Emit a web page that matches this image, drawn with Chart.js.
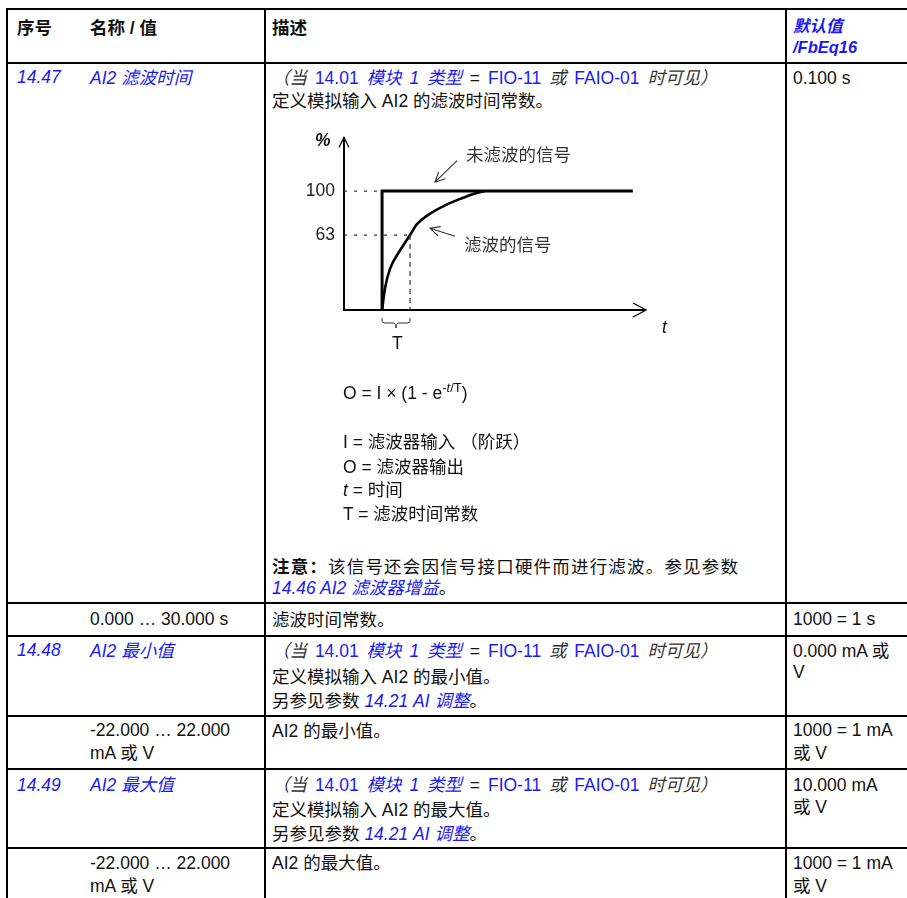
<!DOCTYPE html>
<html>
<head>
<meta charset="utf-8">
<script src="https://cdn.jsdelivr.net/npm/chart.js@4"></script>
<style>
  body { margin: 0; background: #fff; }
  #pagina { position: relative; width: 907px; height: 898px; overflow: hidden; background: #fff;
            font-family: "Liberation Sans", "Noto Sans CJK SC", sans-serif; color: #111; }
  .h { position: absolute; height: 2px; background: #000; }
  .v { position: absolute; width: 2px; background: #000; }
  .t { position: absolute; white-space: nowrap; line-height: 20px; font-size: 17.5px; }
  .az { color: #1a1af5; }
  .it { font-style: italic; }
  .gr { color: #333; }
  .neg { font-weight: bold; }
  .cond { word-spacing: 3px; }
  .just { width: 466px; text-align: justify; text-align-last: justify; }
  .apr { font-size: 16.5px; }
  sup { font-size: 13px; vertical-align: 7px; line-height: 0; }
  #grafica { position: absolute; left: 290px; top: 118px; }
</style>
</head>
<body>
<div id="pagina">
  <!-- lineas de la tabla -->
  <div class="h" style="left:6px;top:8px;width:901px"></div>
  <div class="h" style="left:6px;top:62px;width:901px"></div>
  <div class="h" style="left:6px;top:602px;width:901px"></div>
  <div class="h" style="left:6px;top:635px;width:901px"></div>
  <div class="h" style="left:6px;top:715px;width:901px"></div>
  <div class="h" style="left:6px;top:768px;width:901px"></div>
  <div class="h" style="left:6px;top:847px;width:901px"></div>
  <div class="v" style="left:6px;top:8px;height:890px"></div>
  <div class="v" style="left:264px;top:8px;height:890px"></div>
  <div class="v" style="left:785px;top:8px;height:890px"></div>

  <!-- encabezado -->
  <div class="t neg" style="left:17px;top:18px">序号</div>
  <div class="t neg" style="left:90px;top:18px">名称 / 值</div>
  <div class="t neg" style="left:272px;top:18px">描述</div>
  <div class="t neg it az apr" style="left:793px;top:16px">默认值</div>
  <div class="t neg it az apr" style="left:793px;top:37px">/FbEq16</div>

  <!-- 14.47 -->
  <div class="t it az" style="left:17px;top:67px">14.47</div>
  <div class="t it az" style="left:90px;top:68px">AI2 滤波时间</div>
  <div class="t cond" style="left:272px;top:68px"><span class="it gr">（当 </span><span class="az">14.01 </span><span class="az it">模块 1 类型</span> = <span class="az">FIO-11</span><span class="it gr"> 或 </span><span class="az">FAIO-01</span><span class="it gr"> 时可见）</span></div>
  <div class="t" style="left:272px;top:91px">定义模拟输入 AI2 的滤波时间常数。</div>
  <div class="t" style="left:793px;top:68px">0.100 s</div>

  <canvas id="grafica" width="400" height="242"></canvas>
  <div class="t neg it" style="left:315px;top:130px">%</div>
  <div class="t gr" style="left:466px;top:145px">未滤波的信号</div>
  <div class="t gr" style="left:464px;top:235px">滤波的信号</div>
  <div class="t it" style="left:662px;top:317px">t</div>
  <div class="t" style="left:392px;top:333px">T</div>

  <div class="t" style="left:343px;top:383px">O = I × (1 - e<sup>-<i>t</i>/T</sup>)</div>
  <div class="t" style="left:343px;top:432px">I = 滤波器输入 （阶跃）</div>
  <div class="t" style="left:343px;top:457px">O = 滤波器输出</div>
  <div class="t" style="left:343px;top:480px"><i>t</i> = 时间</div>
  <div class="t" style="left:343px;top:504px">T = 滤波时间常数</div>
  <div class="t just" style="left:272px;top:557px"><b>注意：</b>该信号还会因信号接口硬件而进行滤波。参见参数</div>
  <div class="t" style="left:272px;top:578px"><span class="az it">14.46 AI2 滤波器增益</span>。</div>

  <!-- 0.000 ... 30.000 s -->
  <div class="t" style="left:90px;top:609px">0.000 … 30.000 s</div>
  <div class="t" style="left:272px;top:610px">滤波时间常数。</div>
  <div class="t" style="left:793px;top:609px">1000 = 1 s</div>

  <!-- 14.48 -->
  <div class="t it az" style="left:17px;top:640px">14.48</div>
  <div class="t it az" style="left:90px;top:641px">AI2 最小值</div>
  <div class="t cond" style="left:272px;top:641px"><span class="it gr">（当 </span><span class="az">14.01 </span><span class="az it">模块 1 类型</span> = <span class="az">FIO-11</span><span class="it gr"> 或 </span><span class="az">FAIO-01</span><span class="it gr"> 时可见）</span></div>
  <div class="t" style="left:272px;top:667px">定义模拟输入 AI2 的最小值。</div>
  <div class="t" style="left:272px;top:691px">另参见参数 <span class="az it">14.21 AI 调整</span>。</div>
  <div class="t" style="left:793px;top:641px">0.000 mA 或</div>
  <div class="t" style="left:793px;top:662px">V</div>

  <div class="t" style="left:90px;top:720px">-22.000 … 22.000</div>
  <div class="t" style="left:90px;top:743px">mA 或 V</div>
  <div class="t" style="left:272px;top:721px">AI2 的最小值。</div>
  <div class="t" style="left:793px;top:720px">1000 = 1 mA</div>
  <div class="t" style="left:793px;top:743px">或 V</div>

  <!-- 14.49 -->
  <div class="t it az" style="left:17px;top:775px">14.49</div>
  <div class="t it az" style="left:90px;top:775px">AI2 最大值</div>
  <div class="t cond" style="left:272px;top:775px"><span class="it gr">（当 </span><span class="az">14.01 </span><span class="az it">模块 1 类型</span> = <span class="az">FIO-11</span><span class="it gr"> 或 </span><span class="az">FAIO-01</span><span class="it gr"> 时可见）</span></div>
  <div class="t" style="left:272px;top:800px">定义模拟输入 AI2 的最大值。</div>
  <div class="t" style="left:272px;top:824px">另参见参数 <span class="az it">14.21 AI 调整</span>。</div>
  <div class="t" style="left:793px;top:775px">10.000 mA</div>
  <div class="t" style="left:793px;top:797px">或 V</div>

  <div class="t" style="left:90px;top:853px">-22.000 … 22.000</div>
  <div class="t" style="left:90px;top:876px">mA 或 V</div>
  <div class="t" style="left:272px;top:853px">AI2 的最大值。</div>
  <div class="t" style="left:793px;top:853px">1000 = 1 mA</div>
  <div class="t" style="left:793px;top:876px">或 V</div>
</div>

<script>
// --- DATOS (tiempo en unidades de T, valor en %) ---
const tiempoFiltrada = [0, 0.11, 0.29, 0.64, 1.0, 1.24, 1.65, 2.25, 2.85, 3.32, 3.68];
const valorFiltrada  = [0, 19, 35, 50, 63, 72, 80, 88, 94, 98, 100];
const tiempoEscalon  = [0, 0, 8.96];
const valorEscalon   = [0, 100, 100];
const marcasY = [63, 100];
const rangoTiempo = [-1.36, 9.43];
const rangoValor = [0, 145];
const constanteT = 1;

function puntos(xs, ys) {
    return xs.map((x, i) => ({ x: x, y: ys[i] }));
}

function lineaGuia(pts, dash) {
    return {
        data: pts, borderColor: '#333', borderWidth: 1.2, borderDash: dash,
        pointRadius: 0, tension: 0
    };
}

// --- EJES, FLECHAS Y LLAVE ---
const dibujoExtra = {
    id: 'dibujoExtra',
    beforeDatasetsDraw(chart) {
        const { ctx, scales: { x, y } } = chart;
        const x0 = x.getPixelForValue(rangoTiempo[0]);
        const x1 = x.getPixelForValue(rangoTiempo[1]);
        const y0 = y.getPixelForValue(0);
        const y1 = y.getPixelForValue(rangoValor[1]);
        ctx.save();
        ctx.strokeStyle = '#000';
        ctx.lineWidth = 2;
        ctx.beginPath();
        ctx.moveTo(x0, y0); ctx.lineTo(x1, y0);
        ctx.moveTo(x0, y0 + 1); ctx.lineTo(x0, y1);
        ctx.stroke();
        ctx.lineWidth = 1.3;
        ctx.beginPath();
        ctx.moveTo(x1 - 13, y0 - 7); ctx.lineTo(x1, y0); ctx.lineTo(x1 - 13, y0 + 7);
        ctx.moveTo(x0 - 5, y1 + 10); ctx.lineTo(x0, y1); ctx.lineTo(x0 + 5, y1 + 10);
        ctx.stroke();
        ctx.restore();
    },
    afterDatasetsDraw(chart, args, opts) {
        const { ctx, scales: { x, y } } = chart;
        ctx.save();
        ctx.strokeStyle = '#333';
        ctx.lineWidth = 1.1;
        // flechas de las notas
        opts.flechas.forEach(f => {
            const ax = x.getPixelForValue(f.desde[0]), ay = y.getPixelForValue(f.desde[1]);
            const bx = x.getPixelForValue(f.hasta[0]), by = y.getPixelForValue(f.hasta[1]);
            const ang = Math.atan2(by - ay, bx - ax);
            ctx.beginPath();
            ctx.moveTo(ax, ay); ctx.lineTo(bx, by);
            ctx.moveTo(bx - 11 * Math.cos(ang - 0.45), by - 11 * Math.sin(ang - 0.45));
            ctx.lineTo(bx, by);
            ctx.lineTo(bx - 11 * Math.cos(ang + 0.45), by - 11 * Math.sin(ang + 0.45));
            ctx.stroke();
        });
        // llave bajo T
        const a = x.getPixelForValue(0), b = x.getPixelForValue(constanteT);
        const m = (a + b) / 2, base = y.getPixelForValue(0);
        ctx.lineWidth = 1;
        ctx.beginPath();
        ctx.moveTo(a, base + 8); ctx.lineTo(a, base + 11);
        ctx.quadraticCurveTo(a, base + 13, a + 3, base + 13);
        ctx.lineTo(m - 3, base + 13);
        ctx.quadraticCurveTo(m, base + 13, m, base + 18);
        ctx.quadraticCurveTo(m, base + 13, m + 3, base + 13);
        ctx.lineTo(b - 3, base + 13);
        ctx.quadraticCurveTo(b, base + 13, b, base + 11);
        ctx.lineTo(b, base + 8);
        ctx.stroke();
        ctx.restore();
    }
};

// --- GRAFICA ---
const ctx = document.getElementById('grafica').getContext('2d');
new Chart(ctx, {
    type: 'line',
    data: {
        datasets: [
            lineaGuia([{ x: rangoTiempo[0], y: 100 }, { x: 0, y: 100 }], [3, 7]),
            lineaGuia([{ x: rangoTiempo[0], y: 63 }, { x: constanteT, y: 63 }], [3, 7]),
            lineaGuia([{ x: constanteT, y: 63 }, { x: constanteT, y: 0 }], [5, 4]),
            {
                data: puntos(tiempoEscalon, valorEscalon),
                borderColor: '#000', borderWidth: 3, borderJoinStyle: 'miter',
                pointRadius: 0, tension: 0
            },
            {
                data: puntos(tiempoFiltrada, valorFiltrada),
                borderColor: '#000', borderWidth: 2.6,
                pointRadius: 0, cubicInterpolationMode: 'monotone'
            }
        ]
    },
    options: {
        responsive: false,
        animation: false,
        layout: { padding: { left: 10, right: 44, top: 15, bottom: 50 } },
        plugins: {
            legend: { display: false },
            tooltip: { enabled: false },
            dibujoExtra: {
                flechas: [
                    { desde: [2.68, 125.6], hasta: [1.89, 107.4] },
                    { desde: [2.61, 62], hasta: [1.71, 68.8] }
                ]
            }
        },
        scales: {
            x: { type: 'linear', min: rangoTiempo[0], max: rangoTiempo[1], display: false },
            y: {
                min: rangoValor[0], max: rangoValor[1],
                grid: { display: false, drawTicks: false },
                border: { display: false },
                ticks: { padding: 9, color: '#222', font: { family: 'Liberation Sans', size: 17.5 } },
                afterBuildTicks: s => { s.ticks = marcasY.map(v => ({ value: v })); },
                afterFit: s => { s.width = 44; }
            }
        }
    },
    plugins: [dibujoExtra]
});
</script>
</body>
</html>
